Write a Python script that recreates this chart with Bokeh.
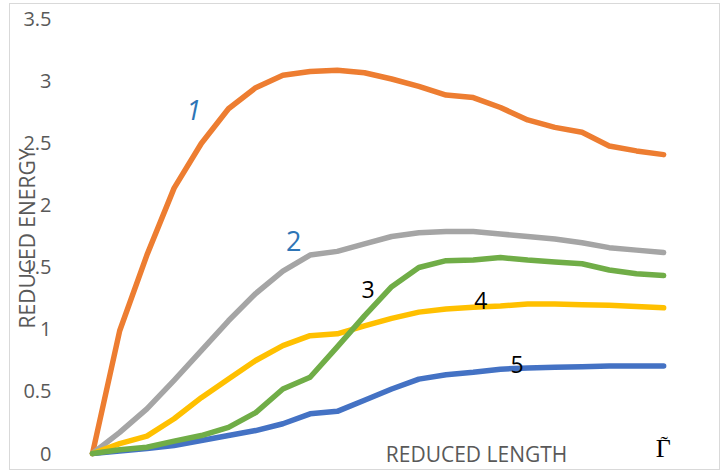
from bokeh.plotting import figure
from bokeh.models import Range1d, FixedTicker, Label, ColumnDataSource
from bokeh.embed import file_html
from bokeh.resources import INLINE

# ---- data ----
x_index = list(range(22))
curve1_orange = [0, 0.99, 1.6, 2.14, 2.5, 2.78, 2.95, 3.05, 3.08, 3.09, 3.07, 3.02,
                 2.96, 2.89, 2.87, 2.79, 2.69, 2.63, 2.59, 2.48, 2.44, 2.41]
curve2_grey = [0, 0.17, 0.36, 0.59, 0.83, 1.07, 1.29, 1.47, 1.6, 1.63, 1.69, 1.75,
               1.78, 1.79, 1.79, 1.77, 1.75, 1.73, 1.70, 1.66, 1.64, 1.62]
curve3_green = [0, 0.03, 0.05, 0.10, 0.145, 0.21, 0.33, 0.52, 0.615, 0.86, 1.11, 1.345,
                1.5, 1.555, 1.56, 1.58, 1.56, 1.545, 1.53, 1.48, 1.45, 1.435]
curve4_yellow = [0, 0.08, 0.14, 0.28, 0.45, 0.6, 0.75, 0.87, 0.95, 0.965, 1.03, 1.09,
                 1.14, 1.165, 1.18, 1.19, 1.205, 1.205, 1.2, 1.195, 1.185, 1.175]
curve5_blue = [0, 0.02, 0.04, 0.065, 0.105, 0.145, 0.185, 0.24, 0.32, 0.34, 0.43, 0.52,
               0.6, 0.635, 0.655, 0.68, 0.69, 0.695, 0.7, 0.705, 0.705, 0.705]

y_ticks = [0, 0.5, 1, 1.5, 2, 2.5, 3, 3.5]
y_tick_labels = ["0", "0.5", "1", "1.5", "2", "2.5", "3", "3.5"]

curve_names = ["1", "2", "3", "4", "5"]
y_title = "REDUCED ENERGY"
x_title = "REDUCED LENGTH"
gamma_letter = "\u0393"
gamma_tilde = "\u02DC"

# ---- figure ----
p = figure(width=711, height=467, output_backend="svg", toolbar_location=None,
           x_range=Range1d(-0.294, 21.62), y_range=Range1d(-0.0806, 3.548),
           x_axis_location=None,
           min_border_left=74, min_border_right=41, min_border_top=9, min_border_bottom=8)
p.styles = {"border": "1px solid #d9d9d9", "margin": "3px 0px 0px 9px"}
p.grid.visible = False
p.outline_line_color = None
p.background_fill_color = "white"
p.border_fill_color = "white"

ax = p.yaxis[0]
ax.ticker = FixedTicker(ticks=y_ticks)
ax.major_label_overrides = dict(zip(y_ticks, y_tick_labels))
ax.axis_line_color = None
ax.major_tick_line_color = None
ax.minor_tick_line_color = None
ax.major_label_standoff = 27
ax.major_label_text_font = "Open Sans"
ax.major_label_text_font_size = "20px"
ax.major_label_text_color = "#595959"
ax.axis_label = y_title
ax.axis_label_standoff = -21
ax.axis_label_text_font = "Open Sans"
ax.axis_label_text_font_size = "21px"
ax.axis_label_text_font_style = "normal"
ax.axis_label_text_color = "#595959"

src = ColumnDataSource(dict(x=x_index, c1=curve1_orange, c2=curve2_grey, c3=curve3_green,
                            c4=curve4_yellow, c5=curve5_blue))

for col, color in [("c5", "#4472C4"), ("c1", "#ED7D31"), ("c2", "#A5A5A5"),
                   ("c4", "#FFC000"), ("c3", "#70AD47")]:
    p.line("x", col, source=src, line_color=color, line_width=5.5,
           line_join="round", line_cap="round")

# curve labels
p.add_layout(Label(x=3.72, y=2.77, text=curve_names[0], text_font="Open Sans",
                   text_font_style="italic", text_font_size="27px", text_color="#2E75B6",
                   text_align="center", text_baseline="middle"))
p.add_layout(Label(x=7.40, y=1.71, text=curve_names[1], text_font="Open Sans",
                   text_font_size="27px", text_color="#2E75B6",
                   text_align="center", text_baseline="middle"))
for (lx, ly), name in zip([(10.13, 1.32), (14.28, 1.234), (15.61, 0.718)], curve_names[2:]):
    p.add_layout(Label(x=lx, y=ly, text=name, text_font="Open Sans",
                       text_font_size="23px", text_color="black",
                       text_align="center", text_baseline="middle"))

# x title and symbol inside the chart area
p.add_layout(Label(x=14.12, y=0, text=x_title,
                   text_font="Open Sans", text_font_size="21px", text_color="#595959",
                   text_align="center", text_baseline="middle"))
p.add_layout(Label(x=20.99, y=-0.078, text=gamma_letter,
                   text_font="Liberation Serif", text_font_size="26px", text_color="black",
                   text_align="center", text_baseline="bottom"))
p.add_layout(Label(x=21.02, y=-0.0185, text=gamma_tilde,
                   text_font="Liberation Serif", text_font_size="22px", text_color="black",
                   text_align="center", text_baseline="bottom"))

open("out.html", "w").write(file_html(p, INLINE))
